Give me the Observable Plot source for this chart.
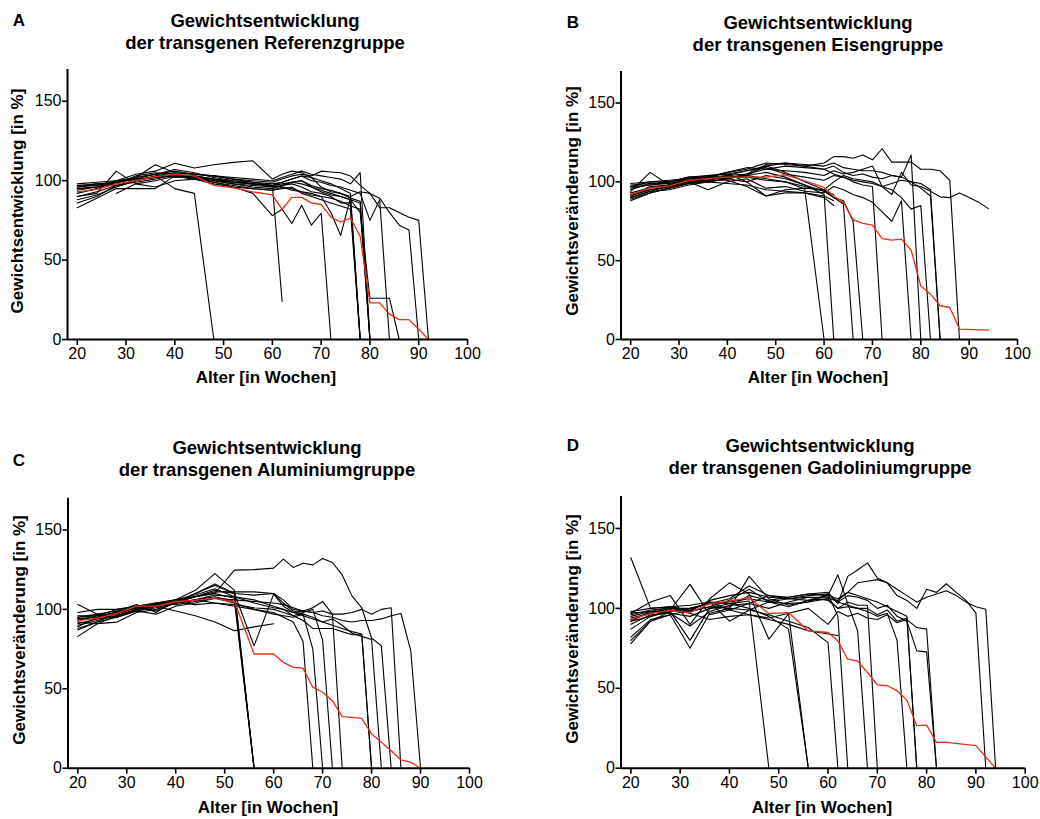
<!DOCTYPE html>
<html><head><meta charset="utf-8">
<script src="https://cdn.jsdelivr.net/npm/d3@7"></script>
<script src="https://cdn.jsdelivr.net/npm/@observablehq/plot@0.6"></script>
<style>
body{margin:0;background:#fff;}
#wrap{position:relative;width:1040px;height:819px;font-family:"Liberation Sans",Arial,sans-serif;color:#000;overflow:hidden;background:#fff}
.t{position:absolute;font-weight:bold;font-size:18.5px;text-align:center;line-height:22px;transform:translateX(-50%);white-space:nowrap}
.lt{position:absolute;font-weight:bold;font-size:17px;transform:translate(-50%,-50%);}
.yl{position:absolute;font-weight:bold;font-size:17px;white-space:nowrap;transform:translate(-50%,-50%) rotate(-90deg);}
.xl{position:absolute;font-weight:bold;font-size:17px;white-space:nowrap;transform:translate(-50%,-50%);}
.p{position:absolute}
.p svg g[aria-label="x-axis tick"] path, .p svg g[aria-label="y-axis tick"] path{stroke-width:1.6px}
</style></head><body><div id="wrap"></div>
<script>
// Weeks at which weights were recorded
const weeks = [20,24,28,32,36,40,44,48,52,56,60,62,64,66,68,70,72,74,76,78,80,82,84,86,88,90,92,94];
const xTicks = [20,30,40,50,60,70,80,90,100];
const yTicks = [0,50,100,150];

// Panel A: Referenzgruppe
const redA = [93,94.5,98,100,102.5,104,103,97,95.5,93,91,82,89.5,89.5,86,85,77,74,76.5,65,23,23,16,12.5,12.5,6.5,0];
const blackA = [
  [90,93,97,100,103,95,92,0],
  [97,98,99,101,104,107,105,102,100,99,97,24],
  [95,96,100,101,102,104,102,99,96,92,78,82,73,84.5,72,79.5,0],
  [96,97,100,104,106,111,108,110,111.5,112.5,101,104,106,105,102,96,93,92,89,87,0],
  [92,95,99,102,104,102,103,101,100,98,96,97,98,96,93,92,90,86,86,0],
  [98,99,100,102,104,106,104,103,102,101,100,102,104,106,104,103,102,101,98,105,0],
  [88,91,96,100,102,103,102,100,98,96,95,97,99,100,96,93,91,90,88,80,26,26,26,0],
  [94,96,98,103,105,104,103,101,99,98,97,99,101,103,100,99,97,96,94,92,75,88,0],
  [96,98,97,100,103,105,104,103,101,100,99,101,103,104,103,106,105.5,105,103,97,92,89,80,72,69,0],
  [97,97,99,101,102,103,101,100,98,97,96,97,99,100,97,95,94,92,90,93,92,83,83,80,77,75,0],
  [90,92,106,98,96,100,101,98,96,95,94,96,95,93,92,90,80,65.5,89,0],
  [86,90,97,99,101,104,102,101,99,98,97,98,99,98,96,94,92,90,88,86,0],
  [83,89,95,95,95,103,101,99,97,95,94,95,96,92,90,88,86,84,82,0],
  [null,null,92,98,100,103,102,100,99,98,97,96,94,93,91,90,89,87,84,82,0],
  [95,96,99,102,110,105,104,103,101,99,98,99,101,103,102,100,98,95,92,0]
];

// Panel B: Eisengruppe
const redB = [92,96,97.5,101,102,103,103,103,104.5,100.7,96.5,91,87,76,73.6,72.6,64,63,63.7,56.7,34,28.8,21.4,20.3,6.6,null,null,6];
const blackB = [
  [90,94,97,100,102,103,104,102,100,95.4,0],
  [93,96,98,101,103,102,104,106,103,98,92,0],
  [95,99,99,102,104,105,107,110,106,100,95,90,86,0],
  [91,95,97,100,101,103,103,101,100,97,94,90,88,75,0],
  [97,100,100,103,103,106,108,112,111,110,112,116,116,115,117,114,121,112.5,112.5,112.5,108,108,107,101,0],
  [88,93,96,99,100,102,105,108,110,109,108,105,103,100,98,97,0],
  [94,106,98,100,95,100,102,96,97,94,93,97,95,92,90,87,81,75,88,0],
  [96,98,100,102,103,104,105,111,112,111,110,112,109,108,107,107,106,104,103,117,0],
  [92,95,97,99,101,104,107,109,105,103,101,104,103,101,100,99,97,95,90,82.7,85,0],
  [97,98,99,101,102,103,104,110,112,110,108,110,106,104,105,103,102,104,103,100,96,91,0],
  [99,100,101,102,103,106,109,108,107,106,104,107,105,106,108,110,97,92,106,98,97,94,90.5,90,93,90,87,83],
  [89,93,96,99,101,101,97,91,93,93,91,88],
  [98,99,100,103,104,105,100,104,102,98,94,92],
  [91,97,98,102,100,102,100,91,95,96,95,100,104,102,101,100,97,99,101,100,99,95,0],
  [90,94,95,98,100,99,98,95,94,93,90,85]
];

// Panel C: Aluminiumgruppe
const redC = [92.8,94.5,97.4,102,102,104.8,105.8,106.9,104.8,71.9,71.9,66.6,63.5,63,51,47.8,42.5,32.5,32,31.4,21.6,16.3,11,5.2,3.8,0];
const blackC = [
  [96,96,98,101,103,106,112,122.5,112,0],
  [94,95,97,101,103,105,110,116,110,0],
  [90,93,96,100,104,106,108,110,107,0],
  [87,92,95,99,102,104,106,108,105,0],
  [98,100,100,102,104,106,108,110,124.7,125,126,131.6,126.4,129,128,132,129.5,121.7,108.5,101,82,77,0],
  [92,91,92,98,100,104,110,115,110,77,109.6,102,98,96,94,92,90,88,86,84.5,0],
  [95,97,99,101,103,105,103,104,102,100,98,95,92,80,0],
  [93,96,98,102,99,104,108,112,110,109,110,104,99,97,75,0],
  [91,94,96,99,101,104,106,104,103,101,100,98,96,98,100,80.6,0],
  [89,95,96,100,102,105,108,111,111,111,110,106,100,99,101,105,97,0],
  [103,97,95,99,97,102,104,107,104,100,97,96,95,97,95,92,94,90,85,83,81,0],
  [95,96,100,102,104,103,105,107,106,105,104,103,101,99,98,99,97,97,98,100,97,100,101,0],
  [94,95,98,101,103,104,106,109,108,104,101,100,98,99,98,96,95,93,92,93,93,94,96,97.4,74,0],
  [83,91,96,100,102,99,96,92,86.5,89,91],
  [88,92,99,103,98,106,109,113,108,106,102,100,96,93,88,88,88,86,84,84,0]
];

// Panel D: Gadoliniumgruppe
const redD = [93.2,96.7,98.8,97.4,103,104.6,106.7,96.7,97.4,85.9,84.9,79.7,68.2,67.2,59.9,52.2,51.6,48.5,42.6,26.6,27,16.2,16.2,null,null,14.1,null,0];
const blackD = [
  [131.7,100,101,99,104,103,104.6,0],
  [97,104,108,90,106,116,109,80.7,96.7,0],
  [92,95,98,80,100,103,100,95,87,0],
  [80,92,96,75,97,100,99,96,92,88,78.6,0],
  [87,95,99,115,96,99,103,108,106,105,108,121,103,86,0],
  [93,97,100,98,105,108,110,107,106,108,109,95,0],
  [78,92,98,100,103,106,114,108,107,109,110,103,120,124,128.5,119,116,108,105,100,112,110,115.4,110,105,97,0],
  [95,98,97,95,100,101,108,105,107,109,108,106,110,116,117,118,116,112,108,104,107,109,111,108,104,101,99.5,0],
  [98,100,101,98,101,105,112,104,101,105,106,100,104,102,102,0],
  [90,96,97,89,98,102,103,100,104,107,105,100,101,100,98,95,97,80,0],
  [96,99,100,100,103,104,106,104,106,107,107,104,102,100,100,96,99,92,94,0],
  [94,97,99,98,101,100,120,106,102,104,109,104,108,107,105,100,102,95,92,73.4,72.8,0],
  [92,98,99,97,93,95,96,93,90,86,84,83],
  [97,98,101,102,104,99,96,94,97,100,90,98,95,97,94,93,96,91,93,88,87,0],
  [82,93,96,99,104,92,99,104,103,104,106,105,110,108,106,104,101,98,95,0]
];

const panels = [
  {letter:"A", title:["Gewichtsentwicklung","der transgenen Referenzgruppe"], ylabel:"Gewichtsentwicklung [in %]",
   red:redA, black:blackA, left:0, top:0, width:480, height:400, mL:67, mR:13, mT:69, mB:61,
   letterPos:[19,21], titlePos:[265,10], yPos:[18,201], xPos:[266,378]},
  {letter:"B", title:["Gewichtsentwicklung","der transgenen Eisengruppe"], ylabel:"Gewichtsveränderung [in %]",
   red:redB, black:blackB, left:520, top:0, width:520, height:400, mL:100.5, mR:23, mT:71, mB:61,
   letterPos:[573,23], titlePos:[818,12], yPos:[573,201], xPos:[818,378]},
  {letter:"C", title:["Gewichtsentwicklung","der transgenen Aluminiumgruppe"], ylabel:"Gewichtsveränderung [in %]",
   red:redC, black:blackC, left:0, top:420, width:480, height:399, mL:67.5, mR:11, mT:77.7, mB:51.3,
   letterPos:[19,461], titlePos:[267,437], yPos:[20,630], xPos:[268,808]},
  {letter:"D", title:["Gewichtsentwicklung","der transgenen Gadoliniumgruppe"], ylabel:"Gewichtsveränderung [in %]",
   red:redD, black:blackD, left:520, top:420, width:520, height:399, mL:100.5, mR:15.3, mT:76, mB:51.3,
   letterPos:[573,446], titlePos:[820,435], yPos:[573,629], xPos:[822,808]}
];

const wrap = document.getElementById("wrap");
function addDiv(cls, text, x, y) {
  const d = document.createElement("div");
  d.className = cls; d.textContent = text;
  d.style.left = x + "px"; d.style.top = y + "px";
  wrap.appendChild(d); return d;
}

for (const p of panels) {
  const rows = [];
  p.black.forEach((s, k) => s.forEach((v, i) => { if (v != null) rows.push({id: k, week: weeks[i], value: v}); }));
  const red = [];
  p.red.forEach((v, i) => { if (v != null) red.push({week: weeks[i], value: v}); });

  const svg = Plot.plot({
    width: p.width, height: p.height,
    marginLeft: p.mL, marginRight: p.mR, marginTop: p.mT, marginBottom: p.mB,
    x: {domain: [18, 100], ticks: xTicks, label: null, tickSize: 6, tickPadding: 2},
    y: {domain: [0, 170], ticks: yTicks, label: null, tickSize: 5, tickPadding: 1},
    style: {fontFamily: '"Liberation Sans", Arial, sans-serif', fontSize: "16px", color: "black", background: "transparent", overflow: "visible"},
    marks: [
      Plot.line(rows, {x: "week", y: "value", z: "id", stroke: "black", strokeWidth: 1.1}),
      Plot.line(red, {x: "week", y: "value", stroke: "#f02a14", strokeWidth: 1.3}),
      Plot.ruleX([18], {stroke: "black", strokeWidth: 2}),
      Plot.ruleY([0], {stroke: "black", strokeWidth: 2})
    ]
  });
  const holder = document.createElement("div");
  holder.className = "p";
  holder.style.left = p.left + "px"; holder.style.top = p.top + "px";
  holder.appendChild(svg);
  wrap.appendChild(holder);

  addDiv("lt", p.letter, p.letterPos[0], p.letterPos[1]);
  const t = document.createElement("div");
  t.className = "t";
  t.innerHTML = p.title[0] + "<br>" + p.title[1];
  t.style.left = p.titlePos[0] + "px"; t.style.top = p.titlePos[1] + "px";
  wrap.appendChild(t);
  addDiv("yl", p.ylabel, p.yPos[0], p.yPos[1]);
  addDiv("xl", "Alter [in Wochen]", p.xPos[0], p.xPos[1]);
}
</script></body></html>
